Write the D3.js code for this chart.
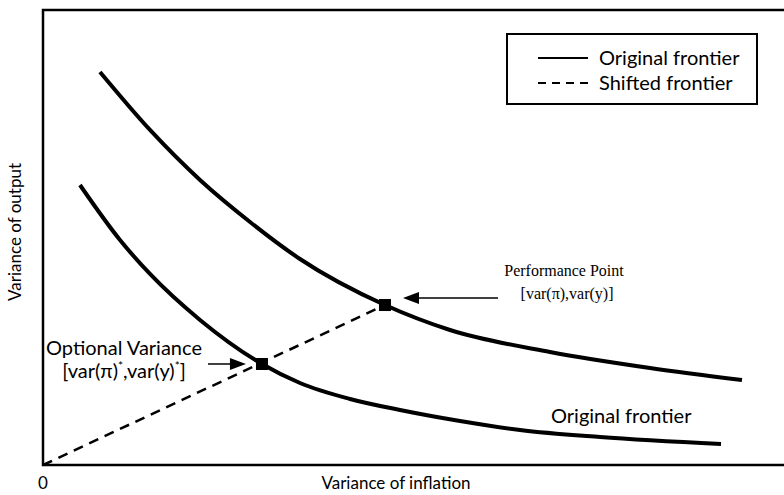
<!DOCTYPE html>
<html><head><meta charset="utf-8">
<script src="https://cdn.jsdelivr.net/npm/d3@7"></script>
<style>body{margin:0;background:#fff}svg{display:block}</style>
</head><body>
<svg id="c" width="784" height="495"></svg>
<script>
// Data (abstract units 0-100 on both axes)
const upperX = [7.69, 14.44, 21.19, 27.94, 34.68, 46.15, 54.93, 68.42, 81.92, 94.33];
const upperY = [86.37, 73.63, 62.64, 53.41, 45.27, 35.16, 29.67, 24.84, 21.32, 18.68];
const lowerX = [4.99, 10.39, 14.44, 21.19, 29.55, 34.68, 41.43, 48.18, 56.28, 64.37, 75.17, 91.50];
const lowerY = [61.54, 49.45, 41.98, 31.87, 22.20, 18.02, 14.51, 12.09, 9.67, 7.69, 6.15, 4.62];
const perfPoint = [46.15, 35.16];
const optPoint = [29.55, 22.20];
const origin = [0, 0];
const legendLabels = ["Original frontier", "Shifted frontier"];
const xLabel = "Variance of inflation";
const yLabel = "Variance of output";
const originLabel = "0";

const svg = d3.select("#c");
const mLeft = 43, mRight = 784, mTop = 10, mBottom = 465;
const x = d3.scaleLinear().domain([0, 100]).range([mLeft, mRight]);
const y = d3.scaleLinear().domain([0, 100]).range([mBottom, mTop]);
const sans = "Lato, 'Open Sans', sans-serif";
const serif = "'Liberation Serif', 'DejaVu Serif', serif";

// frame
svg.append("path")
  .attr("d", `M${mRight + 5},${mTop} H${mLeft} V${mBottom} H${mRight + 5}`)
  .attr("fill", "none").attr("stroke", "#000").attr("stroke-width", 2.5);

const line = d3.line().x(d => x(d[0])).y(d => y(d[1])).curve(d3.curveMonotoneX);
const upper = upperX.map((v, i) => [v, upperY[i]]);
const lower = lowerX.map((v, i) => [v, lowerY[i]]);

svg.append("path").attr("d", line(upper)).attr("fill", "none")
  .attr("stroke", "#000").attr("stroke-width", 4);
svg.append("path").attr("d", line(lower)).attr("fill", "none")
  .attr("stroke", "#000").attr("stroke-width", 4);

// dashed line from origin through both points
svg.append("line")
  .attr("x1", x(origin[0])).attr("y1", y(origin[1]))
  .attr("x2", x(perfPoint[0])).attr("y2", y(perfPoint[1]))
  .attr("stroke", "#000").attr("stroke-width", 2.5).attr("stroke-dasharray", "10,7");

// markers
[perfPoint, optPoint].forEach(p => {
  svg.append("rect").attr("x", x(p[0]) - 6).attr("y", y(p[1]) - 6)
    .attr("width", 12).attr("height", 12).attr("fill", "#000");
});

// arrows
function arrowL(x1, yy, tip) {
  svg.append("line").attr("x1", x1).attr("y1", yy).attr("x2", tip + 10).attr("y2", yy)
    .attr("stroke", "#000").attr("stroke-width", 1.5);
  svg.append("path").attr("d", `M${tip},${yy} L${tip + 16},${yy - 6} L${tip + 16},${yy + 6} Z`)
    .attr("fill", "#000");
}
function arrowR(x1, yy, tip) {
  svg.append("line").attr("x1", x1).attr("y1", yy).attr("x2", tip - 10).attr("y2", yy)
    .attr("stroke", "#000").attr("stroke-width", 1.5);
  svg.append("path").attr("d", `M${tip},${yy} L${tip - 16},${yy - 6} L${tip - 16},${yy + 6} Z`)
    .attr("fill", "#000");
}
arrowL(498, y(perfPoint[1]) - 7, x(perfPoint[0]) + 18);
arrowR(208, y(optPoint[1]), x(optPoint[0]) - 16);

// annotation texts
const t1 = svg.append("text").attr("font-family", serif).attr("font-size", 16).attr("text-anchor", "middle");
t1.append("tspan").attr("x", 564).attr("y", 276).text("Performance Point");
t1.append("tspan").attr("x", 567).attr("y", 299).text("[var(π),var(y)]");

const t2 = svg.append("text").attr("font-family", sans).attr("font-size", 20).attr("text-anchor", "middle");
t2.append("tspan").attr("x", 124).attr("y", 355).text("Optional Variance");
const l2 = t2.append("tspan").attr("x", 124).attr("y", 378);
l2.append("tspan").text("[var(π)");
l2.append("tspan").attr("font-size", 12).attr("dy", -8).text("*");
l2.append("tspan").attr("dy", 8).text(",var(y)");
l2.append("tspan").attr("font-size", 12).attr("dy", -8).text("*");
l2.append("tspan").attr("dy", 8).text("]");

svg.append("text").attr("font-family", sans).attr("font-size", 20)
  .attr("x", 551).attr("y", 423).text("Original frontier");

// legend
svg.append("rect").attr("x", 507).attr("y", 34).attr("width", 250).attr("height", 70)
  .attr("fill", "#fff").attr("stroke", "#000").attr("stroke-width", 2);
const lg = svg.append("g");
legendLabels.forEach((lab, i) => {
  const yy = 58 + i * 25;
  lg.append("line").attr("x1", 538).attr("x2", 588).attr("y1", yy).attr("y2", yy)
    .attr("stroke", "#000").attr("stroke-width", 1.8)
    .attr("stroke-dasharray", i === 1 ? "8,6" : null);
  lg.append("text").attr("x", 599).attr("y", yy + 6.5).attr("font-family", sans)
    .attr("font-size", 20).text(lab);
});

// axis labels
svg.append("text").attr("font-family", sans).attr("font-size", 17)
  .attr("x", 396).attr("y", 489).attr("text-anchor", "middle").text(xLabel);
svg.append("text").attr("font-family", sans).attr("font-size", 17)
  .attr("x", 43).attr("y", 489).attr("text-anchor", "middle").text(originLabel);
svg.append("text").attr("font-family", sans).attr("font-size", 17)
  .attr("transform", "translate(21,232) rotate(-90)").attr("text-anchor", "middle").text(yLabel);
</script>
</body></html>
